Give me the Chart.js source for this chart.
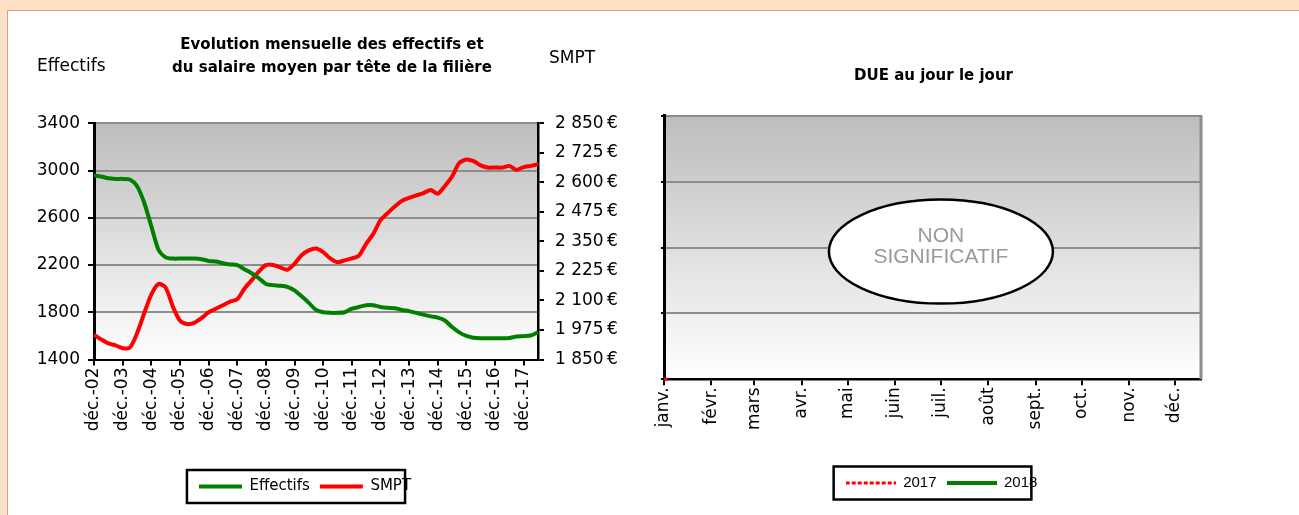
<!DOCTYPE html>
<html>
<head>
<meta charset="utf-8">
<script src="https://cdn.jsdelivr.net/npm/chart.js@4.4.1/dist/chart.umd.min.js"></script>
<style>
html, body { margin: 0; padding: 0; background: #fde0c6; overflow: hidden; }
#panel { position: absolute; left: 7px; top: 10px; width: 1400px; height: 600px; background: #fff;
         border-left: 1px solid #e39a8a; border-top: 1px solid #e39a8a; }
#c1 { position: absolute; left: 8px; top: 11px; }
#c2 { position: absolute; left: 640px; top: 11px; }
</style>
</head>
<body>
<div id="panel"></div>
<canvas id="c1" width="648" height="504"></canvas>
<canvas id="c2" width="586" height="504"></canvas>
<script>
// quarterly points, from déc.-02 to juin-18
var quarterNames = ["déc.", "mars", "juin", "sept."];
var effectifs = [2960,2950,2935,2930,2930,2925,2870,2730,2530,2330,
                 2265,2255,2255,2255,2255,2250,2235,2230,2215,2205,
                 2200,2165,2130,2090,2040,2030,2025,2015,1985,1935,
                 1880,1820,1800,1795,1795,1800,1830,1845,1860,1860,
                 1845,1838,1835,1820,1810,1795,1780,1765,1755,1730,
                 1675,1630,1600,1585,1580,1580,1580,1580,1582,1595,
                 1598,1603,1630];
var smpt = [1955,1935,1918,1910,1898,1900,1960,2045,2125,2170,
            2155,2075,2015,2000,2005,2025,2050,2065,2080,2095,
            2105,2150,2185,2222,2250,2250,2240,2230,2255,2292,
            2312,2320,2305,2278,2262,2270,2278,2290,2340,2382,
            2440,2470,2498,2522,2535,2545,2555,2568,2552,2585,
            2625,2682,2697,2690,2672,2663,2663,2663,2670,2653,
            2665,2670,2677];

// DUE chart: day of year axis
var monthNames = ["janv.","févr.","mars","avr.","mai","juin","juil.","août","sept.","oct.","nov.","déc."];
var monthStart = [0,31,59,90,120,151,181,212,243,273,304,334];
var due2017 = [{x: 0, y: 0}, {x: 4, y: 0}];
var due2018 = [];

var quarters = [];
for (var i = 0; i < effectifs.length; i++) {
  var yr = i % 4 === 0 ? 2 + i / 4 : 3 + Math.floor(i / 4);
  quarters.push(quarterNames[i % 4] + "-" + (yr < 10 ? "0" + yr : "" + yr));
}

Chart.defaults.font.family = "DejaVu Sans";
Chart.defaults.color = "#000";

// little line sample used as legend symbol
function lineSample(color, width, dash) {
  var c = document.createElement("canvas");
  c.width = 50; c.height = 4;
  var x = c.getContext("2d");
  x.strokeStyle = color; x.lineWidth = width; x.setLineDash(dash);
  x.beginPath(); x.moveTo(0, 2); x.lineTo(50, 2); x.stroke();
  return c;
}

var plotBg = {
  id: "plotBg",
  beforeDraw: function(chart) {
    var ctx = chart.ctx, a = chart.chartArea;
    var g = ctx.createLinearGradient(0, a.top, 0, a.bottom);
    g.addColorStop(0, "#bdbdbd");
    g.addColorStop(1, "#ffffff");
    ctx.save();
    ctx.fillStyle = g;
    ctx.fillRect(a.left, a.top, a.right - a.left, a.bottom - a.top);
    ctx.restore();
  }
};

var legendBox = {
  id: "legendBox",
  afterLayout: function(chart, args, opts) {
    var lg = chart.legend, t = chart.titleBlock;
    lg.left += opts.legendShift || 0; lg.right += opts.legendShift || 0;
    t.left += opts.titleShift || 0; t.right += opts.titleShift || 0;
  },
  afterDraw: function(chart) {
    var hb = chart.legend.legendHitBoxes;
    if (!hb.length) return;
    var first = hb[0], last = hb[hb.length - 1];
    var ctx = chart.ctx;
    ctx.save();
    ctx.strokeStyle = "#000";
    ctx.lineWidth = 2.5;
    ctx.strokeRect(first.left - 12, first.top - 9, last.left + last.width - first.left + 6, first.height + 18);
    ctx.restore();
  }
};

var axisTitles = {
  id: "axisTitles",
  afterDraw: function(chart) {
    var ctx = chart.ctx;
    ctx.save();
    ctx.fillStyle = "#000";
    ctx.font = "17px 'DejaVu Sans'";
    ctx.textBaseline = "middle";
    ctx.fillText("Effectifs", 29, 56);
    ctx.fillText("SMPT", 541, 48);
    ctx.restore();
  }
};

new Chart(document.getElementById("c1"), {
  type: "line",
  data: {
    labels: quarters,
    datasets: [
      { label: "Effectifs", data: effectifs, yAxisID: "y", borderColor: "#008000", backgroundColor: "#008000",
        borderWidth: 4, pointRadius: 0, tension: 0.25, fill: false },
      { label: "SMPT", data: smpt, yAxisID: "y1", borderColor: "#ff0000", backgroundColor: "#ff0000",
        borderWidth: 4, pointRadius: 0, tension: 0.25, fill: false }
    ]
  },
  options: {
    responsive: false,
    animation: false,
    layout: { padding: { left: 0, right: 0, top: 0, bottom: 11 } },
    plugins: {
      title: { display: true, text: ["Evolution mensuelle des effectifs et", "du salaire moyen par tête de la filière"],
               font: { size: 15, weight: "bold", lineHeight: 1.53 }, padding: { top: 22.5, bottom: 44 }, color: "#000" },
      legend: { position: "bottom",
                labels: { usePointStyle: true, pointStyle: "line", pointStyleWidth: 43, boxHeight: 4,
                          font: { size: 15 }, padding: 10, color: "#000" } },
      tooltip: { enabled: false },
      legendBox: { legendShift: -27 }
    },
    scales: {
      x: {
        afterFit: function(s) { s.height = 109.5; },
        border: { color: "#000", width: 2 },
        grid: { drawOnChartArea: false, tickLength: 6, lineWidth: 2,
                tickColor: function(c) { return c.index % 4 === 0 ? "#000" : "rgba(0,0,0,0)"; } },
        ticks: { autoSkip: false, maxRotation: 90, minRotation: 90, font: { size: 17 }, padding: 2,
                 callback: function(v, i) { return i % 4 === 0 ? this.getLabelForValue(v) : ""; } }
      },
      y: {
        position: "left", min: 1400, max: 3400,
        afterFit: function(s) { s.width = 86; },
        border: { color: "#000", width: 3 },
        grid: { lineWidth: 2, tickLength: 6, tickColor: "#000",
                color: function(c) { return c.tick && c.tick.value === 1400 ? "rgba(0,0,0,0)" : "#8c8c8c"; } },
        ticks: { stepSize: 400, font: { size: 17 }, padding: 8,
                 callback: function(v) { return String(v); } }
      },
      y1: {
        position: "right", min: 1850, max: 2850,
        afterFit: function(s) { s.width = 118; },
        border: { color: "#000", width: 2.5 },
        grid: { drawOnChartArea: false, tickLength: 6, lineWidth: 2, tickColor: "#000" },
        ticks: { stepSize: 125, font: { size: 17 }, padding: 11,
                 callback: function(v) {
                   var s = String(v);
                   return s.slice(0, s.length - 3) + "\u00a0" + s.slice(-3) + "\u202f€";
                 } }
      }
    }
  },
  plugins: [plotBg, legendBox, axisTitles]
});

var nonSignificatif = {
  id: "nonSignificatif",
  afterDraw: function(chart) {
    var ctx = chart.ctx, a = chart.chartArea;
    var cx = chart.scales.x.getPixelForValue(181), cy = chart.scales.y.getPixelForValue(1.94);
    ctx.save();
    // right border of the plot
    ctx.strokeStyle = "#8c8c8c";
    ctx.lineWidth = 3;
    ctx.beginPath(); ctx.moveTo(a.right, a.top - 1); ctx.lineTo(a.right, a.bottom); ctx.stroke();
    ctx.beginPath();
    ctx.ellipse(cx, cy, 112, 52, 0, 0, Math.PI * 2);
    ctx.fillStyle = "#fff";
    ctx.fill();
    ctx.strokeStyle = "#000";
    ctx.lineWidth = 2.5;
    ctx.stroke();
    ctx.fillStyle = "#9a9a9a";
    ctx.font = "21px 'Liberation Sans'";
    ctx.textAlign = "center";
    ctx.textBaseline = "middle";
    ctx.fillText("NON", cx, cy - 15);
    ctx.fillText("SIGNIFICATIF", cx, cy + 6);
    ctx.restore();
  }
};

new Chart(document.getElementById("c2"), {
  type: "line",
  data: {
    datasets: [
      { label: "2017", data: due2017, borderColor: "#ff0000", backgroundColor: "#ff0000",
        borderWidth: 3, borderDash: [4, 2], pointRadius: 0, fill: false, clip: false,
        pointStyle: lineSample("#ff0000", 3, [4, 2]) },
      { label: "2018", data: due2018, borderColor: "#008000", backgroundColor: "#008000",
        borderWidth: 4, pointRadius: 0, fill: false,
        pointStyle: lineSample("#008000", 4, []) }
    ]
  },
  options: {
    responsive: false,
    animation: false,
    layout: { padding: { left: 0, right: 25, top: 0, bottom: 14.5 } },
    plugins: {
      title: { display: true, text: "DUE au jour le jour", font: { size: 15, weight: "bold", lineHeight: 1.53 },
               padding: { top: 53.5, bottom: 28.5 }, color: "#000" },
      legend: { position: "bottom",
                labels: { usePointStyle: true, pointStyleWidth: 50, boxHeight: 4,
                          font: { size: 15, family: "Liberation Sans" }, padding: 10, color: "#000" } },
      tooltip: { enabled: false },
      legendBox: { legendShift: 21, titleShift: 13 }
    },
    scales: {
      x: {
        type: "linear", min: 0, max: 351,
        afterBuildTicks: function(axis) { axis.ticks = monthStart.map(function(d) { return { value: d }; }); },
        afterFit: function(s) { s.height = 86.2; },
        border: { color: "#000", width: 2.5 },
        grid: { drawOnChartArea: false, tickLength: 6, lineWidth: 2, tickColor: "#000" },
        ticks: { autoSkip: false, maxRotation: 90, minRotation: 90, font: { size: 17 }, padding: 2,
                 callback: function(v) { return monthNames[monthStart.indexOf(v)]; } }
      },
      y: {
        min: 0, max: 4,
        afterFit: function(s) { s.width = 24; },
        border: { color: "#000", width: 3 },
        grid: { lineWidth: 2, tickLength: 3, tickColor: "#000",
                color: function(c) { return c.tick && c.tick.value === 0 ? "rgba(0,0,0,0)" : "#8c8c8c"; } },
        ticks: { stepSize: 1, callback: function() { return ""; } }
      }
    }
  },
  plugins: [plotBg, legendBox, nonSignificatif]
});
</script>
</body>
</html>
